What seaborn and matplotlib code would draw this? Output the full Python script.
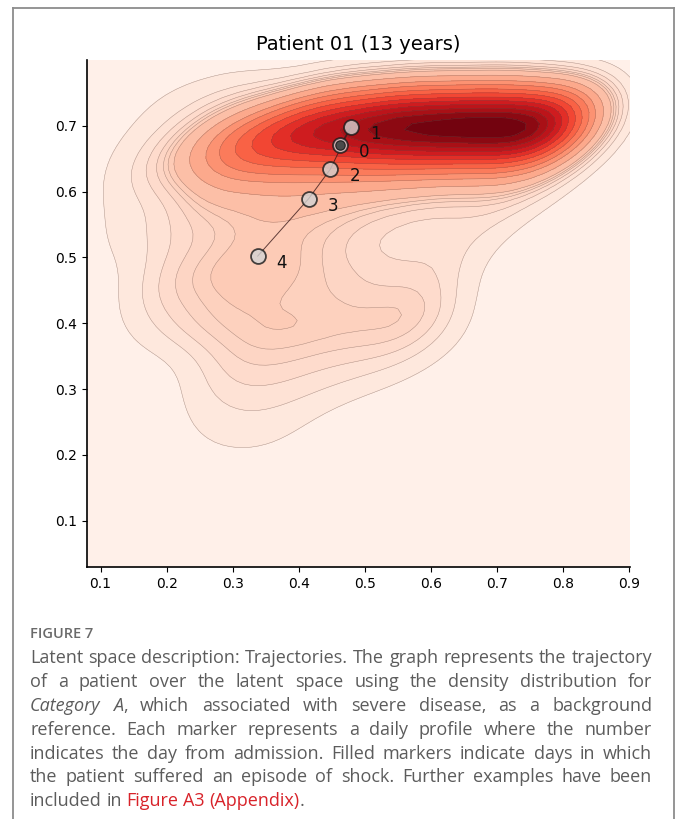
import numpy as np
import matplotlib
matplotlib.use("Agg")
import matplotlib.pyplot as plt
from matplotlib.lines import Line2D
import seaborn as sns

# ── reference density sample (Category A) ───────────────────────────────────
# ridge near y=0.7, upper fringe, band below it, lower-left lobe, fringes
REF_X = [0.44, 0.48, 0.52, 0.56, 0.60, 0.64, 0.68, 0.72, 0.76, 0.79,
         0.40, 0.36, 0.32, 0.28, 0.24,
         0.20, 0.30, 0.44, 0.56, 0.68, 0.78, 0.80,
         0.30, 0.40, 0.50, 0.60, 0.70, 0.78,
         0.25, 0.35, 0.45, 0.55, 0.65,
         0.22, 0.30, 0.38, 0.46, 0.20, 0.28, 0.36, 0.44, 0.52, 0.60,
         0.28, 0.36, 0.45, 0.54, 0.62, 0.26, 0.36,
         0.55, 0.63, 0.70, 0.76, 0.58,
         0.15, 0.15, 0.17, 0.13, 0.30, 0.14, 0.38]
REF_Y = [0.697, 0.697, 0.698, 0.699, 0.699, 0.699, 0.699, 0.699, 0.698, 0.697,
         0.690, 0.685, 0.678, 0.670, 0.660,
         0.740, 0.755, 0.740, 0.745, 0.745, 0.735, 0.700,
         0.620, 0.620, 0.630, 0.640, 0.650, 0.655,
         0.560, 0.555, 0.555, 0.565, 0.580,
         0.480, 0.480, 0.480, 0.470, 0.400, 0.400, 0.390, 0.390, 0.400, 0.430,
         0.320, 0.310, 0.310, 0.330, 0.370, 0.250, 0.240,
         0.480, 0.500, 0.560, 0.610, 0.400,
         0.620, 0.520, 0.440, 0.560, 0.220, 0.670, 0.220]
REF_W = [2.0, 2.2, 2.4, 2.6, 2.6, 2.6, 2.6, 2.6, 2.6, 2.4,
         1.9, 1.6, 1.3, 1.0, 0.7,
         0.4, 0.5, 0.7, 0.8, 0.8, 0.4, 0.7,
         0.9, 1.1, 1.1, 1.0, 0.8, 0.5,
         0.7, 0.9, 0.8, 0.6, 0.4,
         0.7, 0.9, 0.9, 0.8, 0.5, 0.9, 0.9, 0.8, 0.7, 0.5,
         0.6, 0.6, 0.5, 0.4, 0.3, 0.3, 0.2,
         0.5, 0.5, 0.4, 0.4, 0.4,
         0.4, 0.35, 0.3, 0.3, 0.25, 0.3, 0.2]

# ── patient trajectory ───────────────────────────────────────────────────────
DAYS = [0, 1, 2, 3, 4]
TRAJ_X = [0.463, 0.479, 0.448, 0.415, 0.338]
TRAJ_Y = [0.671, 0.698, 0.634, 0.589, 0.502]
SHOCK = [True, False, False, False, False]

TITLE = "Patient 01 (13 years)"
XTICKS = [0.1, 0.2, 0.3, 0.4, 0.5, 0.6, 0.7, 0.8, 0.9]
YTICKS = [0.1, 0.2, 0.3, 0.4, 0.5, 0.6, 0.7]

CAPTION_HEAD = "FIGURE 7"
CAPTION = [
    "Latent space description: Trajectories. The graph represents the trajectory",
    "of a patient over the latent space using the density distribution for",
    "*Category A*, which associated with severe disease, as a background",
    "reference. Each marker represents a daily profile where the number",
    "indicates the day from admission. Filled markers indicate days in which",
    "the patient suffered an episode of shock. Further examples have been",
    "included in [Figure A3 (Appendix)].",
]

W, H = 680, 819
fig = plt.figure(figsize=(W / 100, H / 100), dpi=100)
fig.patch.set_facecolor("white")

ax = fig.add_axes([86.7 / W, 1 - 567 / H, (630 - 86.7) / W, (567 - 60) / H])

kde_kw = dict(x=REF_X, y=REF_Y, weights=REF_W, levels=20, thresh=0,
              bw_adjust=0.65, gridsize=200, cut=12, ax=ax)
sns.kdeplot(fill=True, cmap="Reds", **kde_kw)
sns.kdeplot(color="#6b5550", linewidths=0.35, alpha=0.55, **kde_kw)

# trajectory line + markers
ax.plot(TRAJ_X, TRAJ_Y, color="#3a1a1a", lw=0.7, alpha=0.8, zorder=3)
sns.scatterplot(x=TRAJ_X, y=TRAJ_Y, s=115, color="lightgray", alpha=0.8,
                edgecolor="#1a1a1a", linewidth=1.3, zorder=4, ax=ax)
sx = [x for x, s in zip(TRAJ_X, SHOCK) if s]
sy = [y for y, s in zip(TRAJ_Y, SHOCK) if s]
ax.scatter(sx, sy, s=45, color="#4a4a4a", edgecolor="#222222",
           linewidth=0.8, zorder=5)
for d, x, y in zip(DAYS, TRAJ_X, TRAJ_Y):
    ax.annotate(str(d), (x, y), xytext=(17.5, -5), textcoords="offset points",
                ha="center", va="center", fontsize=12, color="#111111")

ax.set_xlim(0.079, 0.902)
ax.set_ylim(0.0296, 0.800)
ax.set_xticks(XTICKS)
ax.set_yticks(YTICKS)
ax.set_xticklabels([f"{t:.1f}" for t in XTICKS], fontsize=10)
ax.set_yticklabels([f"{t:.1f}" for t in YTICKS], fontsize=10)
ax.set_xlabel("")
ax.set_ylabel("")
ax.set_title(TITLE, fontsize=14, pad=7)
sns.despine(ax=ax)
for sp in ("left", "bottom"):
    ax.spines[sp].set_linewidth(1.2)

# frame around the figure panel
frame = dict(color="#8c8c8c", lw=1.3, transform=fig.transFigure)
fig.add_artist(Line2D([13 / W, 13 / W], [0, 1 - 8 / H], **frame))
fig.add_artist(Line2D([674 / W, 674 / W], [0, 1 - 8 / H], **frame))
fig.add_artist(Line2D([13 / W, 674 / W], [1 - 8 / H, 1 - 8 / H], **frame))

# ── caption, justified between x0 and x1 ─────────────────────────────────────
X0, X1 = 30, 652
BASE0, STEP = 663, 23.9
CAP_COLOR = "#5c5c5c"
CAP_FONT = "Open Sans"

fig.text(X0 / W, 1 - 638 / H, CAPTION_HEAD, fontsize=10.5, family=CAP_FONT,
         weight="semibold", color="#6a6a6a", va="baseline")


def tokens(line):
    words, style = [], "n"
    for raw in line.split(" "):
        pieces, buf = [], ""
        for ch in raw:
            if ch in "*[]":
                if buf:
                    pieces.append((buf, style))
                    buf = ""
                if ch == "*":
                    style = "n" if style == "i" else "i"
                elif ch == "[":
                    style = "r"
                else:
                    style = "n"
            else:
                buf += ch
        if buf:
            pieces.append((buf, style))
        words.append(pieces)
    return words


renderer = fig.canvas.get_renderer()


def make(txt, st, size, y):
    return fig.text(0, y, txt, fontsize=size, family=CAP_FONT, va="baseline",
                    style="italic" if st == "i" else "normal",
                    color="#d8232a" if st == "r" else CAP_COLOR)


# pick font size so the first (tightest) line fits
probe = fig.text(0, 0, CAPTION[0], fontsize=12, family=CAP_FONT)
natural = probe.get_window_extent(renderer).width
probe.remove()
FS = 12 * (X1 - X0 - 4) / natural

sp = fig.text(0, 0, "a a", fontsize=FS, family=CAP_FONT)
sp2 = fig.text(0, 0, "aa", fontsize=FS, family=CAP_FONT)
space_w = sp.get_window_extent(renderer).width - sp2.get_window_extent(renderer).width
sp.remove()
sp2.remove()

for i, line in enumerate(CAPTION):
    y = 1 - (BASE0 + i * STEP) / H
    words = tokens(line)
    objs = [[make(t, s, FS, y) for t, s in w] for w in words]
    widths = [[o.get_window_extent(renderer).width for o in ws] for ws in objs]
    total = sum(sum(w) for w in widths)
    last = i == len(CAPTION) - 1
    gap = space_w if last else (X1 - X0 - total) / (len(words) - 1)
    x = X0
    for ws, wd in zip(objs, widths):
        for o, w in zip(ws, wd):
            o.set_x(x / W)
            x += w
        x += gap

fig.savefig("out.png", dpi=100)
